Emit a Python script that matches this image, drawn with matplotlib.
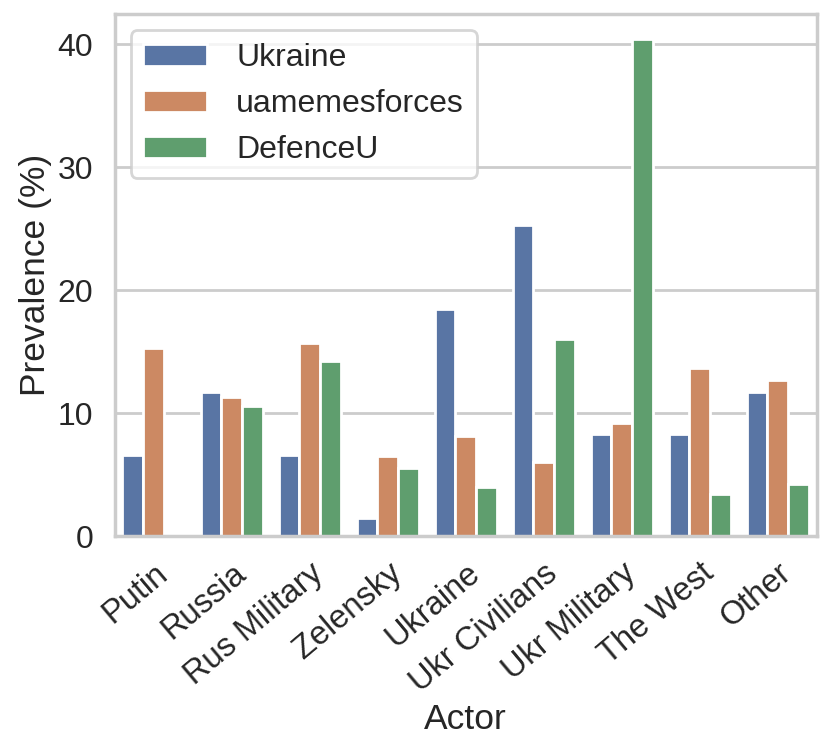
import matplotlib
matplotlib.use("Agg")
import matplotlib.pyplot as plt
import seaborn as sns
import pandas as pd

actors = ["Putin", "Russia", "Rus Military", "Zelensky", "Ukraine",
          "Ukr Civilians", "Ukr Military", "The West", "Other"]
sources = ["Ukraine", "uamemesforces", "DefenceU"]
ukraine_vals = [6.6, 11.7, 6.6, 1.5, 18.5, 25.3, 8.3, 8.3, 11.7]
uamemes_vals = [15.3, 11.3, 15.7, 6.5, 8.1, 6.0, 9.2, 13.7, 12.7]
defenceu_vals = [0.0, 10.6, 14.2, 5.5, 4.0, 16.0, 40.4, 3.4, 4.2]

rows = []
for src, vals in zip(sources, [ukraine_vals, uamemes_vals, defenceu_vals]):
    for a, v in zip(actors, vals):
        rows.append({"Actor": a, "Source": src, "Prevalence (%)": v})
df = pd.DataFrame(rows)

sns.set_theme(context="poster", style="whitegrid")
plt.rcParams["font.family"] = ["Liberation Sans", "DejaVu Sans"]

fig = plt.figure(figsize=(8.31, 7.54), dpi=100)
ax = fig.add_axes([0.138, 0.2891, 0.845, 0.6919])
sns.barplot(data=df, x="Actor", y="Prevalence (%)", hue="Source",
            hue_order=sources, order=actors, ax=ax, errorbar=None)
ax.set_xticks(range(len(actors)))
ax.set_xticklabels(actors, rotation=40, ha="right", rotation_mode="anchor",
                   fontsize=23.5)
ax.tick_params(axis="y", labelsize=23)
ax.set_xlabel("Actor", fontsize=25.5)
ax.set_ylabel("Prevalence (%)", fontsize=25.5)
ax.legend(loc="upper left", title=None, fontsize=23, handletextpad=0.9)
for s in ax.spines.values():
    s.set_visible(True)
fig.savefig("out.png", dpi=100)
